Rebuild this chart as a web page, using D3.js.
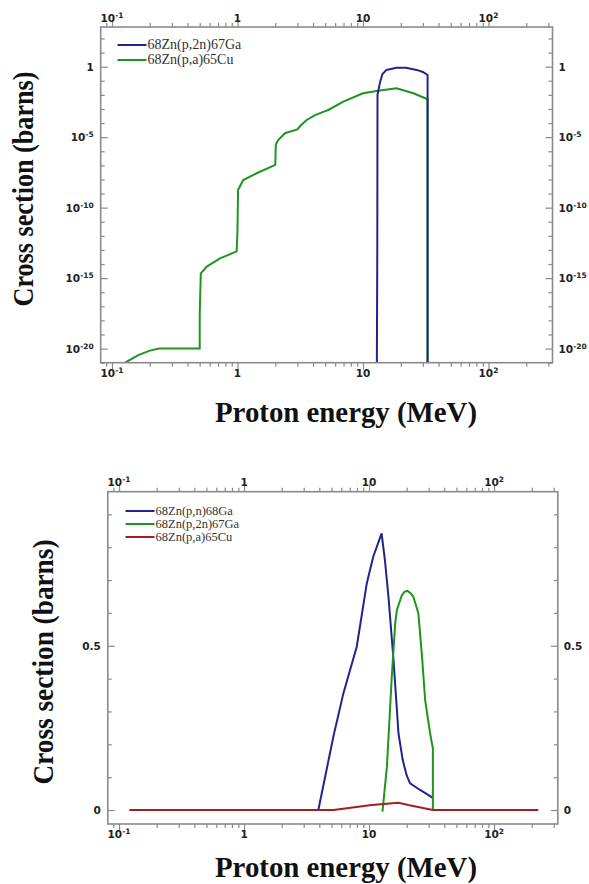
<!DOCTYPE html>
<html>
<head>
<meta charset="utf-8">
<script src="https://cdn.jsdelivr.net/npm/d3@7"></script>
<style>
  body { margin: 0; background: #fff; }
  svg { display: block; }
</style>
</head>
<body>
<div id="chart"></div>
<script>
// Top panel (log-log): 68Zn(p,2n)67Ga and 68Zn(p,a)65Cu, [MeV, barns]
const pa65CuLog = [
  [0.127, 1e-21], [0.162, 3.5e-21], [0.2, 7.2e-21], [0.237, 1e-20], [0.5, 1e-20],
  [0.5, 3e-18], [0.51, 2.2e-15], [0.569, 6.6e-15], [0.726, 2.5e-14], [0.985, 7.9e-14],
  [1.0, 2.5e-12], [1.01, 1.8e-9], [1.11, 9.1e-9], [1.42, 2.75e-8], [2.0, 1.07e-7],
  [2.02, 3e-6], [2.11, 6.3e-6], [2.39, 1.9e-5], [3.0, 3.5e-5], [3.2, 7e-5],
  [3.56, 1.66e-4], [4.15, 3.7e-4], [5.0, 7e-4], [5.29, 8.5e-4], [6.97, 3.3e-3],
  [10, 1.3e-2], [13.2, 2e-2], [18.5, 2.95e-2], [25.2, 1.3e-2], [32.7, 4.9e-3], [32.7, 1e-21]
];
const p2n67GaLog = [
  [12.9, 1e-21], [13.0, 1.6e-13], [13.05, 1e-2], [13.7, 8.7e-2], [14.3, 0.3],
  [15.4, 0.59], [18.5, 0.83], [22, 0.85], [26.8, 0.59], [30, 0.42], [32.7, 0.26], [32.7, 1e-21]
];
const topSeries = ["68Zn(p,2n)67Ga", "68Zn(p,a)65Cu"];

// Bottom panel (linear y)
const pn68Ga = [
  [3.93, 0], [5.18, 0.223], [6.23, 0.355], [7.97, 0.497], [9.59, 0.69], [10.8, 0.771],
  [12.6, 0.842], [13.4, 0.76], [14.3, 0.649], [15.7, 0.456], [17.2, 0.233], [18.6, 0.152],
  [20, 0.105], [21.3, 0.081], [25.6, 0.061], [32.4, 0.037]
];
const p2n67Ga = [
  [12.8, -0.005], [13.9, 0.132], [15.2, 0.406], [16.2, 0.57], [16.7, 0.609], [18.3, 0.654],
  [19.3, 0.665], [20.3, 0.667], [21.5, 0.66], [22.6, 0.649], [24.8, 0.599], [26.5, 0.47],
  [28.1, 0.335], [30.8, 0.233], [32.4, 0.188], [32.4, 0]
];
const pa65Cu = [
  [0.121, 0], [5.2, 0], [10.5, 0.015], [17.2, 0.022], [20.6, 0.015], [32.4, 0], [226, 0]
];
const bottomSeries = ["68Zn(p,n)68Ga", "68Zn(p,2n)67Ga", "68Zn(p,a)65Cu"];

const xMajor = [0.1, 1, 10, 100];
const yMajorLog = [1e-20, 1e-15, 1e-10, 1e-5, 1];
const yMajorLin = [0, 0.5];

const blue = "#23238c", green = "#1f951f", red = "#a11f1f";
const frameCol = "#8a8a8a";

const svg = d3.select("#chart").append("svg")
  .attr("width", 589).attr("height", 884)
  .style("background", "#fff");

const tickFont = "'DejaVu Sans', Verdana, sans-serif";
const serif = "'Liberation Serif', 'Times New Roman', serif";

function xMinor(x) {
  const [a, b] = x.domain(), out = [];
  for (let e = -2; e <= 3; e++)
    for (let k = 2; k <= 9; k++) {
      const v = k * Math.pow(10, e);
      if (v > a && v < b) out.push(v);
    }
  return out;
}

function powLabel(sel, v) {
  const e = Math.round(Math.log10(v));
  if (e === 0) sel.text("1");
  else if (e === 1) sel.text("10");
  else {
    sel.append("tspan").text("10");
    sel.append("tspan").attr("dy", -4).attr("font-size", 7.5).text(e < 0 ? "-" + (-e) : "" + e);
  }
}

function styleAxis(g) {
  g.select(".domain").remove();
  g.selectAll("line").attr("stroke", frameCol).attr("stroke-width", 1.2);
}

function drawFrame(x, y, yMinorVals, yMajorVals, yLabel) {
  const [x0, x1] = x.range(), [y1, y0] = y.range();
  // x ticks, top and bottom, pointing inward
  [[y0, d3.axisBottom], [y1, d3.axisTop]].forEach(([yy, ax]) => {
    svg.append("g").attr("transform", `translate(0,${yy})`)
      .call(ax(x).tickValues(xMinor(x)).tickSize(-4).tickFormat("")).call(styleAxis);
    svg.append("g").attr("transform", `translate(0,${yy})`)
      .call(ax(x).tickValues(xMajor).tickSize(-7).tickFormat("")).call(styleAxis);
  });
  // y ticks, left and right, pointing inward
  [[x0, d3.axisLeft], [x1, d3.axisRight]].forEach(([xx, ax]) => {
    svg.append("g").attr("transform", `translate(${xx},0)`)
      .call(ax(y).tickValues(yMinorVals).tickSize(-4).tickFormat("")).call(styleAxis);
    svg.append("g").attr("transform", `translate(${xx},0)`)
      .call(ax(y).tickValues(yMajorVals).tickSize(-7).tickFormat("")).call(styleAxis);
  });
  svg.append("rect")
    .attr("x", x0).attr("y", y0).attr("width", x1 - x0).attr("height", y1 - y0)
    .attr("fill", "none").attr("stroke", frameCol).attr("stroke-width", 1.6);

  const lbl = (sx, sy, anchor) => svg.append("text")
    .attr("x", sx).attr("y", sy).attr("text-anchor", anchor)
    .attr("font-family", tickFont).attr("font-weight", "bold")
    .attr("font-size", 10.5).attr("fill", "#222");

  xMajor.forEach(v => {
    powLabel(lbl(x(v), y0 - 5.5, "middle"), v);
    powLabel(lbl(x(v), y1 + 14, "middle"), v);
  });
  yMajorVals.forEach(v => {
    yLabel(lbl(x0 - 7, y(v) + 4, "end"), v);
    yLabel(lbl(x1 + 6, y(v) + 4, "start"), v);
  });
}

function titles(yTitleX, yTitleY, yLen, xTitleY) {
  svg.append("text")
    .attr("transform", `translate(${yTitleX},${yTitleY}) rotate(-90)`)
    .attr("text-anchor", "middle")
    .attr("font-family", serif).attr("font-weight", "bold").attr("font-size", 30)
    .attr("textLength", yLen).attr("lengthAdjust", "spacingAndGlyphs")
    .attr("fill", "#111")
    .text("Cross section (barns)");
  svg.append("text")
    .attr("x", 346).attr("y", xTitleY)
    .attr("text-anchor", "middle")
    .attr("font-family", serif).attr("font-weight", "bold").attr("font-size", 30)
    .attr("textLength", 262).attr("lengthAdjust", "spacingAndGlyphs")
    .attr("fill", "#111")
    .text("Proton energy (MeV)");
}

function legend(x0, y0, step, size, names, colors) {
  names.forEach((n, i) => {
    const yy = y0 + i * step;
    svg.append("line").attr("x1", x0).attr("x2", x0 + 29).attr("y1", yy).attr("y2", yy)
      .attr("stroke", colors[i]).attr("stroke-width", 2);
    svg.append("text").attr("x", x0 + 30).attr("y", yy + size * 0.32)
      .attr("font-family", serif).attr("font-size", size).attr("fill", "#333")
      .text(n);
  });
}

const xDomain = [Math.pow(10, -1.09), Math.pow(10, 2.51)];

// ---- top chart ----
const xTop = d3.scaleLog().domain(xDomain).range([100.7, 552.5]);
const yTop = d3.scaleLog().domain([1e-21, Math.pow(10, 2.816)]).range([362.7, 27]);

svg.append("clipPath").attr("id", "clipTop").append("rect")
  .attr("x", 100.7).attr("y", 27).attr("width", 552.5 - 100.7).attr("height", 362.7 - 27);

const lineTop = d3.line().x(d => xTop(d[0])).y(d => yTop(d[1]));
svg.append("path").datum(pa65CuLog).attr("d", lineTop)
  .attr("clip-path", "url(#clipTop)")
  .attr("fill", "none").attr("stroke", green).attr("stroke-width", 2);
svg.append("path").datum(p2n67GaLog).attr("d", lineTop)
  .attr("clip-path", "url(#clipTop)")
  .attr("fill", "none").attr("stroke", blue).attr("stroke-width", 2);

const yMinorLog = d3.range(-21, 3).map(e => Math.pow(10, e)).filter(v => !yMajorLog.includes(v));
drawFrame(xTop, yTop, yMinorLog, yMajorLog, powLabel);
legend(117.5, 45, 15, 14, topSeries, [blue, green]);
titles(33, 189, 235, 421.5);

// ---- bottom chart ----
const xBot = d3.scaleLog().domain(xDomain).range([107.8, 557.8]);
const yBot = d3.scaleLinear().domain([-0.0426, 0.969]).range([824, 491.7]);

const lineBot = d3.line().x(d => xBot(d[0])).y(d => yBot(d[1]));
[[pn68Ga, blue], [p2n67Ga, green], [pa65Cu, red]].forEach(([data, c]) => {
  svg.append("path").datum(data).attr("d", lineBot)
    .attr("fill", "none").attr("stroke", c).attr("stroke-width", 2);
});

const yMinorLin = d3.range(1, 10).map(i => i / 10).filter(v => v !== 0.5);
drawFrame(xBot, yBot, yMinorLin, yMajorLin, (sel, v) => sel.text(v === 0 ? "0" : "0.5"));
legend(125.5, 511, 13, 12.5, bottomSeries, [blue, green, red]);
titles(53, 662, 245, 877);
</script>
</body>
</html>
